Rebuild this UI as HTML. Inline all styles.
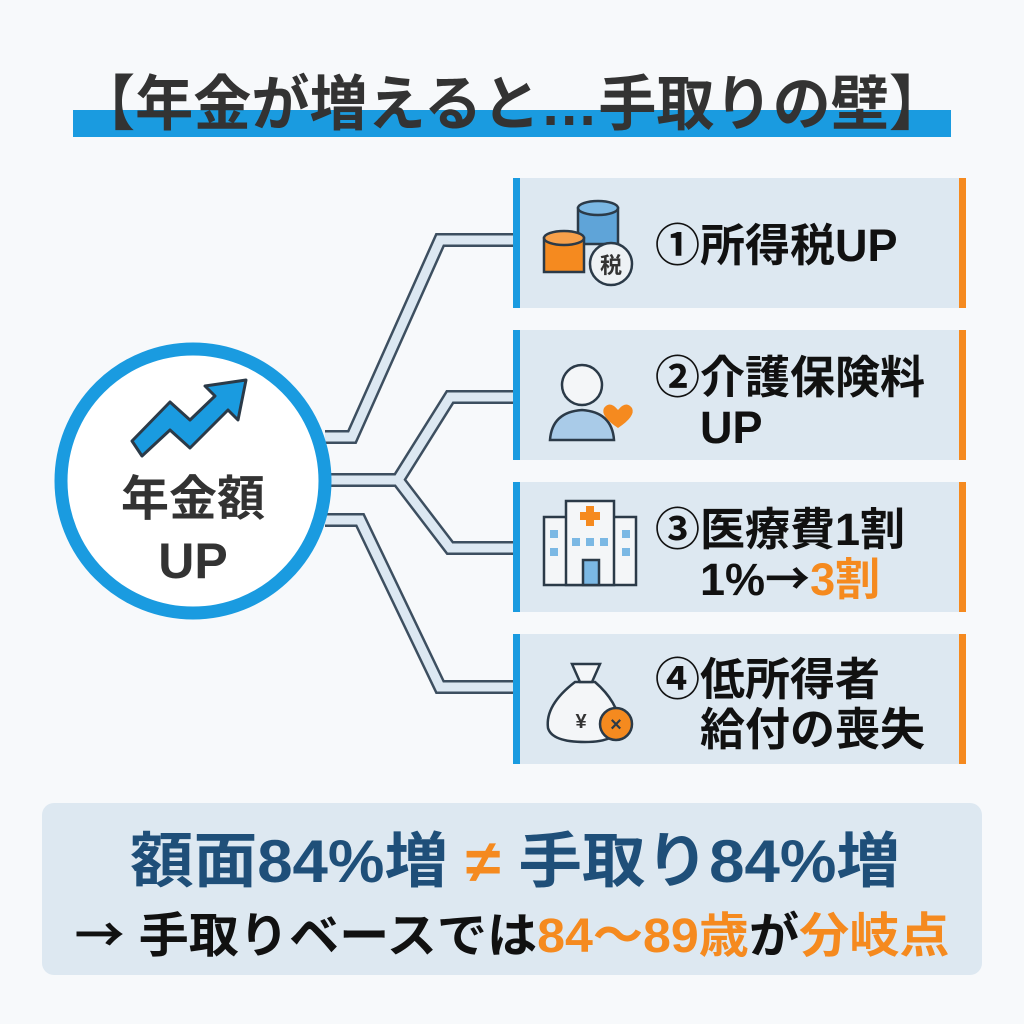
<!DOCTYPE html>
<html><head><meta charset="utf-8"><style>
body{margin:0;width:1024px;height:1024px;background:#f7f9fb;overflow:hidden}
svg{display:block}
text{font-family:"Liberation Sans","Noto Sans CJK JP",sans-serif;font-weight:bold}
.cj{font-family:"Noto Sans CJK JP",sans-serif}
</style></head><body>
<svg width="1024" height="1024" viewBox="0 0 1024 1024">
<rect width="1024" height="1024" fill="#f7f9fb"/>
<rect x="73" y="110" width="878" height="27" fill="#1a9be0"/>
<text x="512" y="125" font-size="60" fill="#333" text-anchor="middle" font-family="Noto Sans CJK JP" font-weight="900" textLength="870" lengthAdjust="spacingAndGlyphs">【年金が増えると…手取りの壁】</text>

<g fill="none" stroke-linejoin="miter">
<g stroke="#3d4f60" stroke-width="14">
<path d="M325 437 H352 L440 240 H520"/>
<path d="M325 480 H398 L450 397 H520 M398 480 L450 548 H520"/>
<path d="M325 520 H360 L440 687 H520"/>
</g>
<g stroke="#dce8f2" stroke-width="9">
<path d="M325 437 H352 L440 240 H520"/>
<path d="M325 480 H398 L450 397 H520 M398 480 L450 548 H520"/>
<path d="M325 520 H360 L440 687 H520"/>
</g>
</g>

<circle cx="193" cy="481" r="132" fill="#fff" stroke="#1a9be0" stroke-width="13"/>
<path d="M132 441 L170 402 L190 420 L215 396 L205 386 L246 380 L238 420 L228 410 L190 448 L170 430 L142 456 Z" fill="#1a9be0" stroke="#2b3a48" stroke-width="3" stroke-linejoin="round"/>
<text x="193" y="515" font-size="48" fill="#333" text-anchor="middle">年金額</text>
<text x="193" y="578" font-size="50" fill="#333" text-anchor="middle">UP</text>

<g>
<rect x="513" y="178" width="453" height="130" rx="4" fill="#dde8f1"/>
<rect x="513" y="178" width="7" height="130" fill="#1a9be0"/><rect x="959" y="178" width="7" height="130" fill="#f58a1f"/>
<rect x="513" y="330" width="453" height="130" rx="4" fill="#dde8f1"/>
<rect x="513" y="330" width="7" height="130" fill="#1a9be0"/><rect x="959" y="330" width="7" height="130" fill="#f58a1f"/>
<rect x="513" y="482" width="453" height="130" rx="4" fill="#dde8f1"/>
<rect x="513" y="482" width="7" height="130" fill="#1a9be0"/><rect x="959" y="482" width="7" height="130" fill="#f58a1f"/>
<rect x="513" y="634" width="453" height="130" rx="4" fill="#dde8f1"/>
<rect x="513" y="634" width="7" height="130" fill="#1a9be0"/><rect x="959" y="634" width="7" height="130" fill="#f58a1f"/>
</g>

<g stroke="#2b3a48" stroke-width="2.5">
<rect x="578" y="208" width="40" height="36" fill="#5fa4d8"/><ellipse cx="598" cy="208" rx="20" ry="7" fill="#7bb8e4"/>
<rect x="544" y="238" width="40" height="34" fill="#f58a1f"/><ellipse cx="564" cy="238" rx="20" ry="7" fill="#f7a04a"/>
<circle cx="611" cy="264" r="21" fill="#eef2f5"/>
</g>
<text x="611" y="273" font-size="22" fill="#333" text-anchor="middle" font-weight="normal">税</text>
<text x="655" y="261" font-size="45" fill="#111">①所得税UP</text>

<g stroke="#2b3a48" stroke-width="2.5" fill="none">
<circle cx="582" cy="385" r="20" fill="#f4f6f8"/>
<path d="M550 440 Q552 412 582 410 Q612 412 614 440 Z" fill="#a9cbe8"/>
</g>
<path d="M618 410 q-8 -10 -14 -2 q-4 8 14 20 q18 -12 14 -20 q-6 -8 -14 2z" fill="#f58a1f"/>
<text x="655" y="393" font-size="45" fill="#111">②介護保険料</text>
<text x="700" y="443" font-size="45" fill="#111">UP</text>

<g stroke="#2b3a48" stroke-width="2.5" fill="#f4f6f8">
<rect x="544" y="517" width="92" height="68"/>
<rect x="566" y="501" width="48" height="84"/>
<rect x="583" y="560" width="16" height="25" fill="#7bb8e4"/>
</g>
<path d="M586 506h8v6h6v8h-6v6h-8v-6h-6v-8h6z" fill="#f58a1f"/>
<g fill="#7bb8e4"><rect x="550" y="530" width="8" height="8"/><rect x="550" y="548" width="8" height="8"/><rect x="622" y="530" width="8" height="8"/><rect x="622" y="548" width="8" height="8"/><rect x="572" y="538" width="8" height="8"/><rect x="586" y="538" width="8" height="8"/><rect x="600" y="538" width="8" height="8"/></g>
<text x="655" y="545" font-size="45" fill="#111">③医療費1割</text>
<text x="700" y="595" font-size="45" fill="#111">1%<tspan class="cj">→</tspan><tspan fill="#f58a1f">3割</tspan></text>

<g stroke="#2b3a48" stroke-width="2.5">
<path d="M575 682 Q545 705 548 728 Q552 742 585 742 Q618 742 620 725 Q618 702 595 682 Z" fill="#f4f6f8"/>
<path d="M572 664 L600 664 L592 682 L580 682 Z" fill="#f4f6f8"/>
<circle cx="616" cy="724" r="16" fill="#f58a1f"/>
</g>
<text x="581" y="728" font-size="20" fill="#333" text-anchor="middle" font-weight="normal">¥</text>
<text x="616" y="731" font-size="20" fill="#2b3a48" text-anchor="middle" font-weight="normal">×</text>
<text x="655" y="695" font-size="45" fill="#111">④低所得者</text>
<text x="700" y="745" font-size="45" fill="#111">給付の喪失</text>

<rect x="42" y="803" width="940" height="172" rx="12" fill="#dde8f1"/>
<text x="515" y="882" font-size="60" fill="#1f4f79" text-anchor="middle" textLength="770" lengthAdjust="spacingAndGlyphs">額面84%増 <tspan fill="#f58a1f">≠</tspan> 手取り84%増</text>
<text x="512" y="952" font-size="48" fill="#111" text-anchor="middle" textLength="875" lengthAdjust="spacingAndGlyphs"><tspan class="cj">→</tspan> 手取りベースでは<tspan fill="#f58a1f">84〜89歳</tspan>が<tspan fill="#f58a1f">分岐点</tspan></text>
</svg>
</body></html>
